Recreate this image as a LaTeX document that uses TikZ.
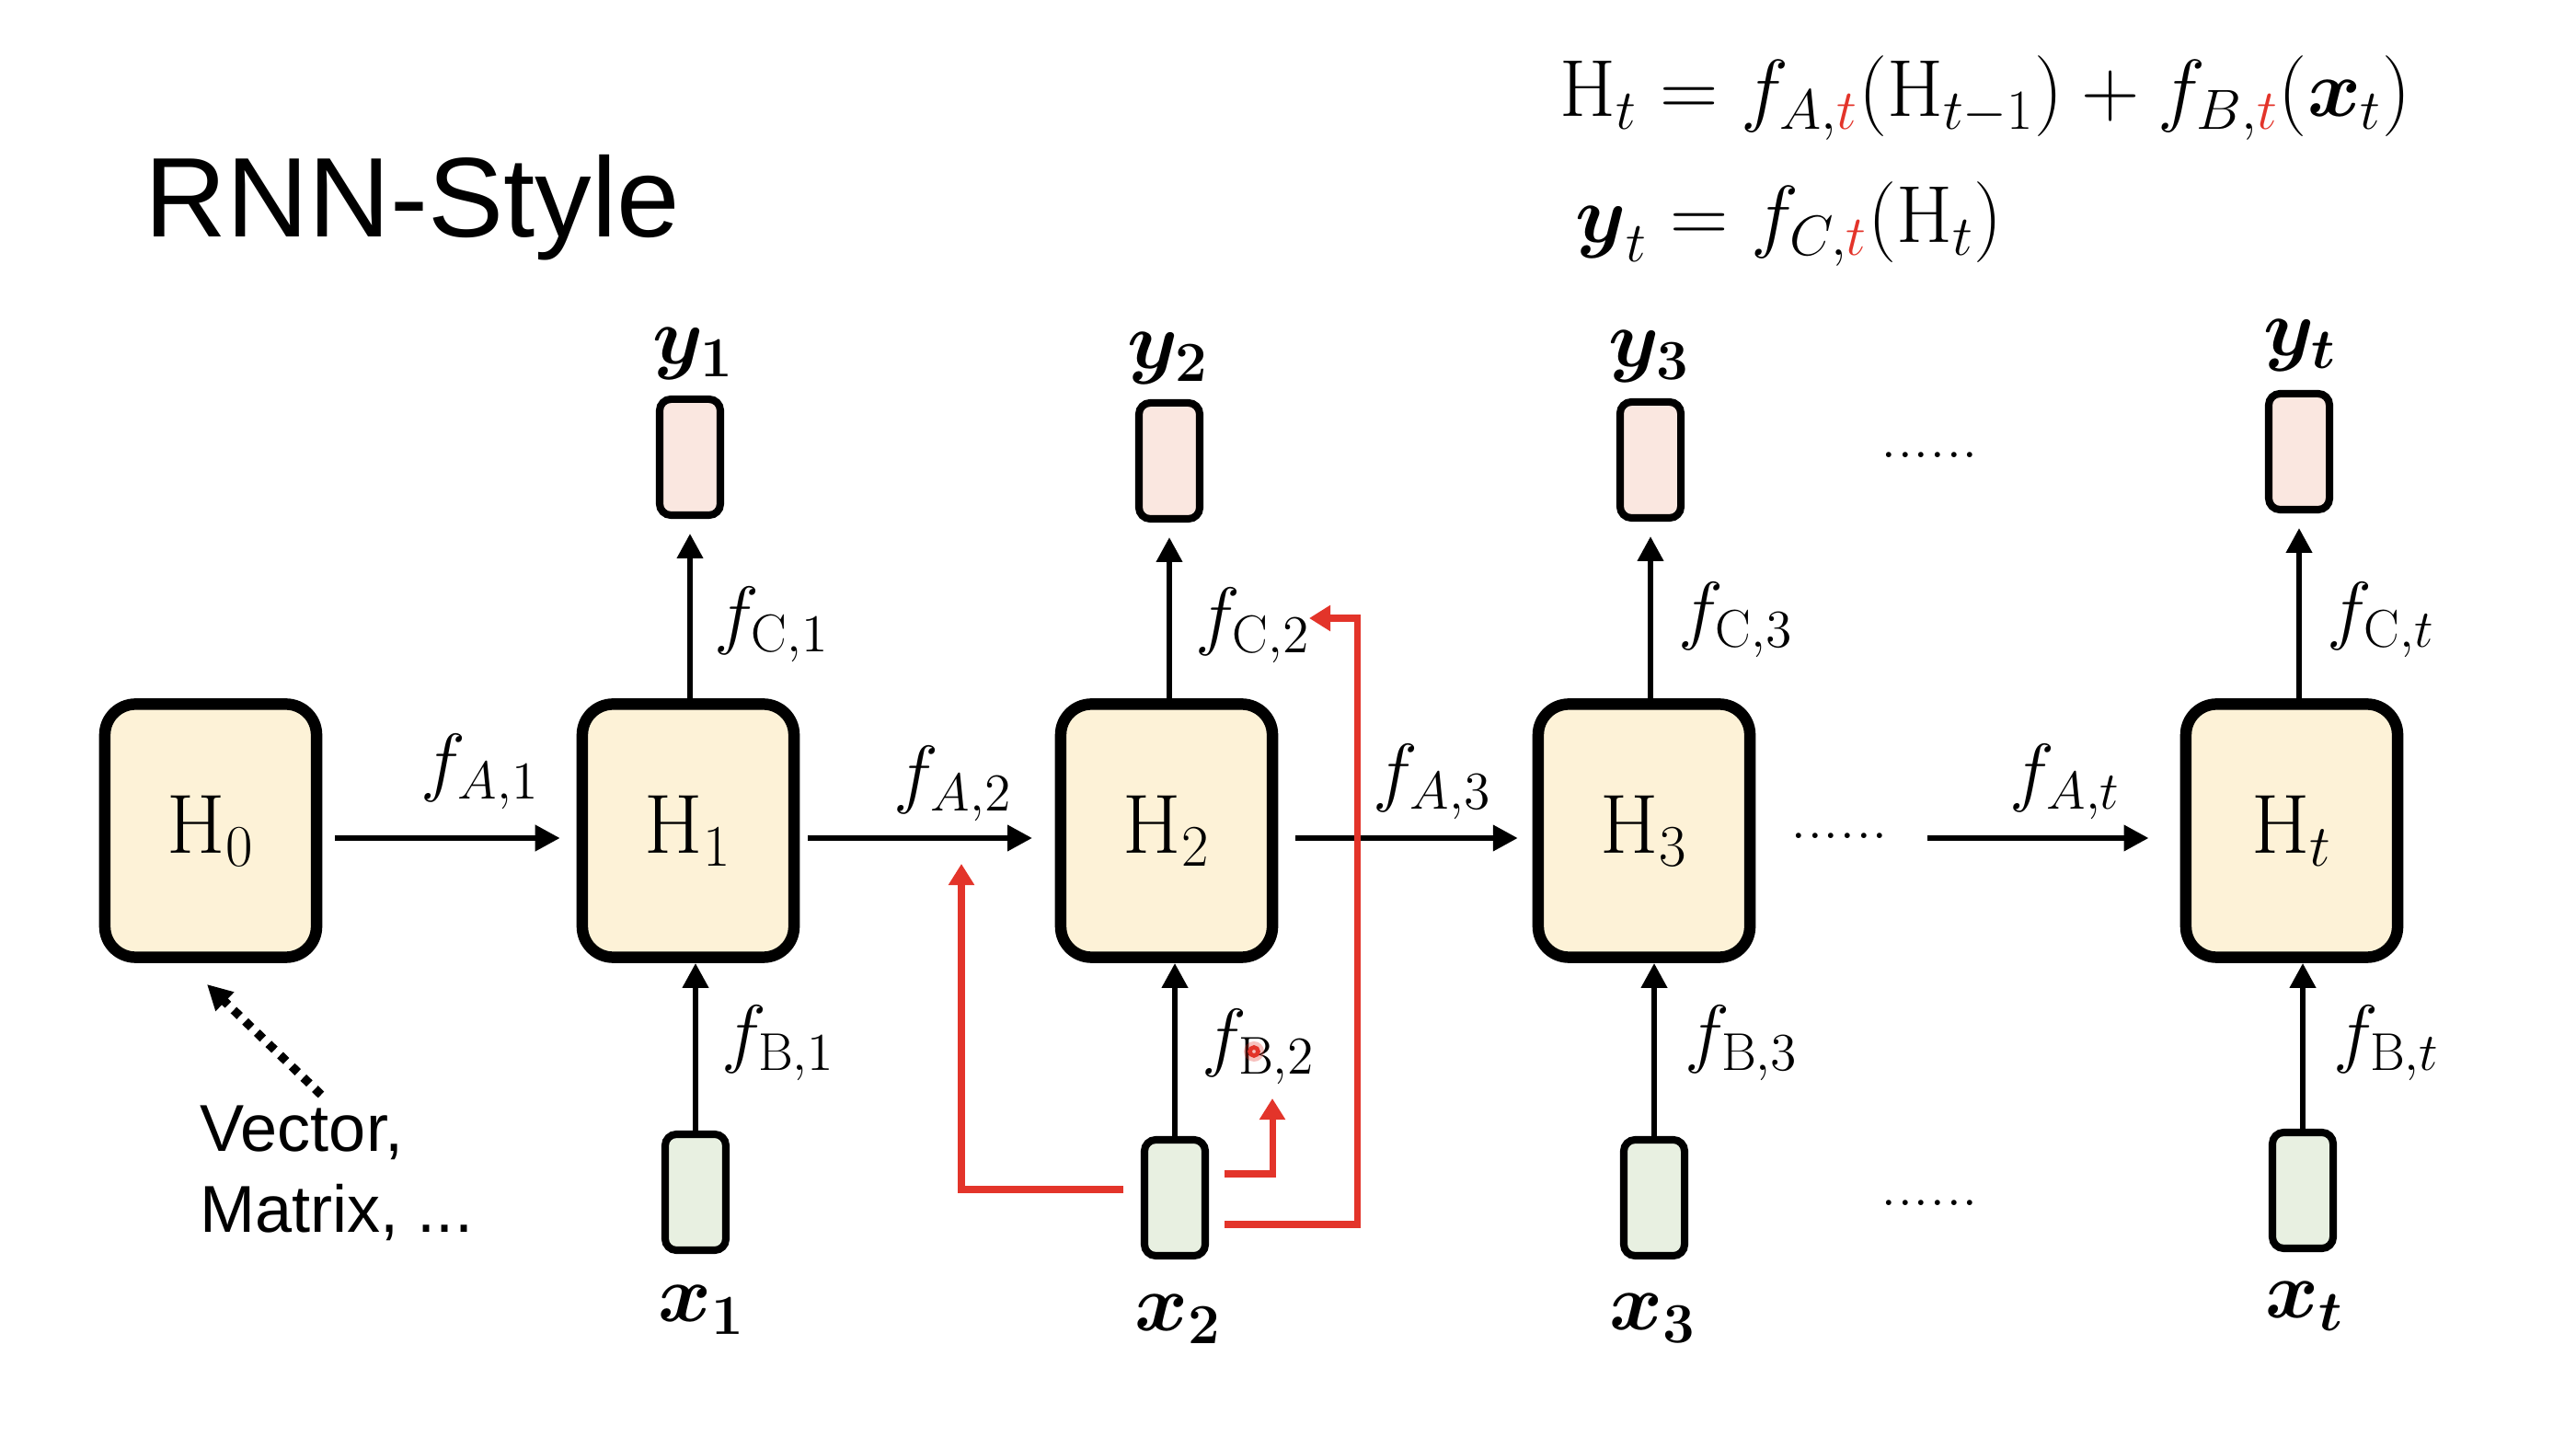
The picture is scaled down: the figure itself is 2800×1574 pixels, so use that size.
\RequirePackage{fix-cm}
\documentclass[tikz,border=0pt]{standalone}
\usepackage{amsmath}
\usepackage{fontspec}
\newfontfamily\sansf{Liberation Sans}
\usetikzlibrary{arrows.meta}
\definecolor{hfill}{HTML}{FDF2D7}
\definecolor{yfill}{HTML}{FAE7E0}
\definecolor{xfill}{HTML}{E8F0E1}
\definecolor{myred}{HTML}{E3342A}
\begin{document}
\begin{tikzpicture}[x=0.01cm,y=-0.01cm,
  hbox/.style={draw, line width=3.55pt, rounded corners=9.5pt, fill=hfill, minimum width=2.30cm, minimum height=2.75cm, inner sep=0pt, font=\fontsize{26}{30}\selectfont},
  ybox/.style={draw, line width=2.3pt, rounded corners=3.5pt, fill=yfill, minimum width=0.66cm, minimum height=1.26cm, inner sep=0pt},
  xbox/.style={ybox, fill=xfill},
  arr/.style={line width=1.9pt, -{Triangle[length=7.7pt,width=7.7pt]}},
  redarr/.style={myred, line width=2pt, line join=miter, -{Triangle[length=6.6pt,width=7.7pt]}},
  lab/.style={inner sep=0pt, font=\fontsize{23.5}{26}\selectfont},
  vlab/.style={inner sep=0pt, font=\fontsize{25}{28}\selectfont},
  dotstext/.style={inner sep=0pt, anchor=base west, font=\fontsize{20}{24}\selectfont},
  eqtext/.style={inner sep=0pt, anchor=base west, font=\fontsize{25}{29}\selectfont}
]
\fill[white] (0,0) rectangle (2800,1574);
\useasboundingbox (0,0) rectangle (2800,1574);

% title
\node[inner sep=0pt, anchor=base west, font=\sansf\fontsize{35}{40}\selectfont] (title) at (157,258) {RNN-Style};

% equations
\node[eqtext] (eq1) at (1695,127) {$\mathrm{H}_t = f_{A,{\color{myred}t}}(\mathrm{H}_{t-1}) + f_{B,{\color{myred}t}}(\boldsymbol{x}_t)$};
\node[eqtext] (eq2) at (1712,264) {$\boldsymbol{y}_t = f_{C,{\color{myred}t}}(\mathrm{H}_t)$};

% hidden state boxes
\node[hbox] (H0) at (229,903) {$\mathrm{H}_0$};
\node[hbox] (H1) at (748,903) {$\mathrm{H}_1$};
\node[hbox] (H2) at (1268,903) {$\mathrm{H}_2$};
\node[hbox] (H3) at (1787,903) {$\mathrm{H}_3$};
\node[hbox] (Ht) at (2491,903) {$\mathrm{H}_t$};

% output boxes
\node[ybox] (y1) at (750,497) {};
\node[ybox] (y2) at (1271,501) {};
\node[ybox] (y3) at (1794,500) {};
\node[ybox] (yt) at (2499,491) {};

% input boxes
\node[xbox] (x1) at (756,1296) {};
\node[xbox] (x2) at (1277,1302) {};
\node[xbox] (x3) at (1798,1302) {};
\node[xbox] (xt) at (2503,1294) {};

% y / x labels
\node[vlab] (ly1) at (754,385) {$\boldsymbol{y_1}$};
\node[vlab] (ly2) at (1270,390) {$\boldsymbol{y_2}$};
\node[vlab] (ly3) at (1793,388) {$\boldsymbol{y_3}$};
\node[vlab] (lyt) at (2500,376) {$\boldsymbol{y_t}$};
\node[vlab] (lx1) at (763,1424) {$\boldsymbol{x_1}$};
\node[vlab] (lx2) at (1281,1434) {$\boldsymbol{x_2}$};
\node[vlab] (lx3) at (1797,1433) {$\boldsymbol{x_3}$};
\node[vlab] (lxt) at (2505,1420) {$\boldsymbol{x_t}$};

% horizontal arrows
\draw[arr, shorten <=4pt, shorten >=5.1pt] ([yshift=-0.08cm]H0.east) -- ([yshift=-0.08cm]H1.west);
\draw[arr, shorten <=2.6pt, shorten >=7pt] ([yshift=-0.08cm]H1.east) -- ([yshift=-0.08cm]H2.west);
\draw[arr, shorten <=5.4pt, shorten >=4.5pt] ([yshift=-0.08cm]H2.east) -- ([yshift=-0.08cm]H3.west);
\node[dotstext] (dm) at (1946,912) {......};
\coordinate (ds) at (2095,911);
\draw[arr, shorten >=9.7pt] (ds) -- (Ht.west |- ds);

% vertical arrows up to outputs
\draw[arr, shorten >=4.5pt] (y1.south |- H1.north) -- (y1.south);
\draw[arr, shorten >=4.5pt] (y2.south |- H2.north) -- (y2.south);
\draw[arr, shorten >=4.5pt] (y3.south |- H3.north) -- (y3.south);
\draw[arr, shorten >=4.5pt] (yt.south |- Ht.north) -- (yt.south);

% vertical arrows from inputs
\draw[arr] (x1.north) -- (x1.north |- H1.south);
\draw[arr] (x2.north) -- (x2.north |- H2.south);
\draw[arr] (x3.north) -- (x3.north |- H3.south);
\draw[arr] (xt.north) -- (xt.north |- Ht.south);

% function labels
\node[lab] (fa1) at (522,839) {$f_{A,1}$};
\node[lab] (fa2) at (1036,852) {$f_{A,2}$};
\node[lab] (fa3) at (1557,850) {$f_{A,3}$};
\node[lab] (fat) at (2245,850) {$f_{A,t}$};
\node[lab] (fc1) at (839,679) {$f_{\mathrm{C},1}$};
\node[lab] (fc2) at (1362,680) {$f_{\mathrm{C},2}$};
\node[lab] (fc3) at (1887,674) {$f_{\mathrm{C},3}$};
\node[lab] (fct) at (2588,674) {$f_{\mathrm{C},t}$};
\node[lab] (fb1) at (846,1134) {$f_{\mathrm{B},1}$};
\node[lab] (fb2) at (1368,1138) {$f_{\mathrm{B},2}$};
\node[lab] (fb3) at (1893,1134) {$f_{\mathrm{B},3}$};
\node[lab] (fbt) at (2594,1134) {$f_{\mathrm{B},t}$};

% dots
\node[dotstext] (dtop) at (2044,498) {......};
\node[dotstext] (dbot) at (2044,1310) {......};

% note on H0
\node[inner sep=0pt, anchor=base west, align=left, font=\sansf\fontsize{20.5}{24.75}\selectfont] (note) at (217,1339) {Vector,\\Matrix, ...};
\coordinate (ns) at (349,1190);
\coordinate (ne) at (225,1070);
\draw[line width=2.7pt, dash pattern=on 2.6pt off 2.4pt, -{Triangle[length=7.7pt,width=7.7pt]}] (ns) -- (ne);

% red paths from x2
\coordinate (r1s) at (1221,1293);
\coordinate (r1e) at (1045,939);
\draw[redarr] (r1s) -| (r1e);
\coordinate (r2s) at (1331,1276);
\coordinate (r2e) at (1383,1194);
\draw[redarr] (r2s) -| (r2e);
\coordinate (r3s) at (1331,1331);
\coordinate (r3c) at (1475,672);
\coordinate (r3e) at (1423,672);
\draw[redarr] (r3s) -| (r3c) -- (r3e);

% pointer mark
\fill[myred, opacity=0.3] (1363,1143) circle (0.11cm);
\draw[myred, line width=1.3pt] (1363,1143) circle (0.045cm);
\end{tikzpicture}
\end{document}
